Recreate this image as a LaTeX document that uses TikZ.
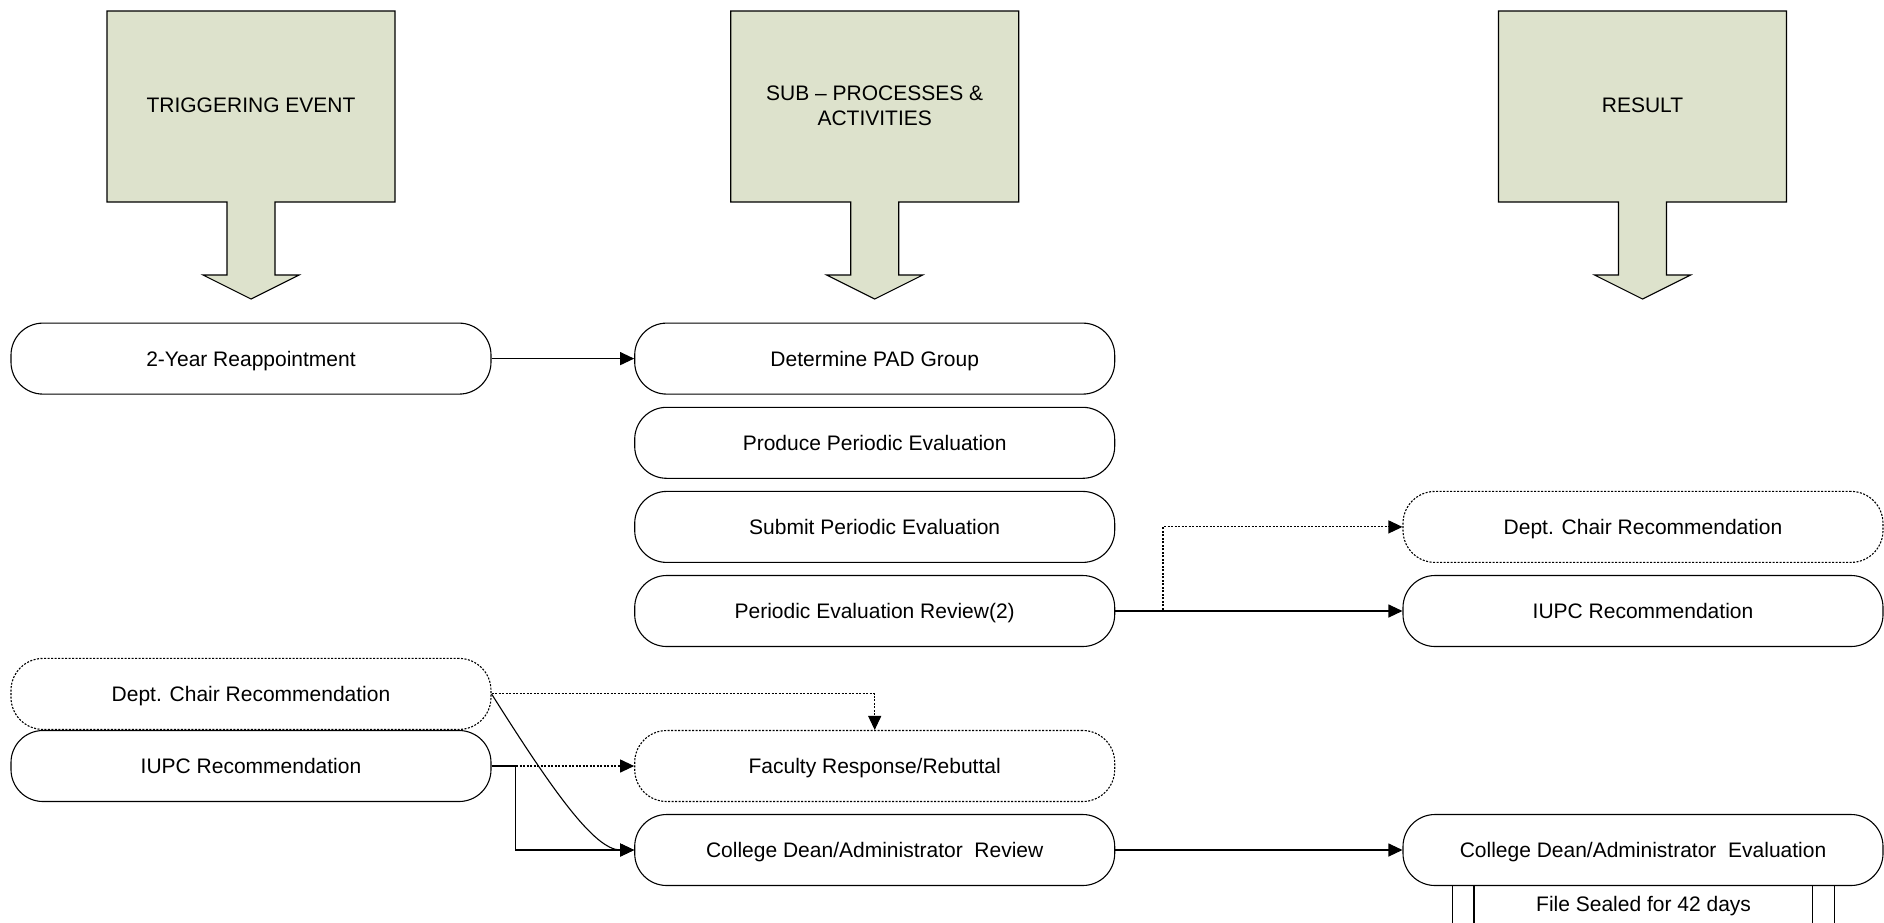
\documentclass[tikz,border=0pt]{standalone}
\usepackage{fontspec}
\setmainfont{Liberation Sans}
\usetikzlibrary{arrows.meta}
\definecolor{hdrfill}{RGB}{221,226,204}
\begin{document}
\begin{tikzpicture}[x=1pt,y=-1pt,
  every node/.style={font=\fontsize{21}{25}\selectfont},
  proc/.style={draw, line width=1.1pt, rounded corners=32pt, minimum width=480pt, minimum height=71pt, inner sep=0pt, text height=15.5pt, text depth=0pt},
  dproc/.style={proc, dash pattern=on 2pt off 1.5pt},
  conn/.style={line width=1.1pt, -{Triangle[length=14pt,width=13pt]}},
  dconn/.style={conn, dash pattern=on 2pt off 1.5pt},
  hdr/.style={draw, line width=1.1pt, fill=hdrfill}]
\useasboundingbox (0,0) rectangle (1884,922);

% header arrows
\foreach \cx in {251,874.7,1642.5}{
  \draw[hdr] ({\cx-144},11) -- ({\cx+144},11) -- ({\cx+144},202) -- ({\cx+24},202)
    -- ({\cx+24},275) -- ({\cx+48},275) -- (\cx,299) -- ({\cx-48},275) -- ({\cx-24},275)
    -- ({\cx-24},202) -- ({\cx-144},202) -- cycle;
}
\node (h1) at (251,105) {TRIGGERING EVENT};
\node[align=center] (h2) at (874.7,106) {SUB – PROCESSES \&\\ACTIVITIES};
\node (h3) at (1642.5,105) {RESULT};

% process nodes
\node[proc]  (n2y)   at (251,358.6)   {2-Year Reappointment};
\node[proc]  (pad)   at (874.7,358.6) {Determine PAD Group};
\node[proc]  (prod)  at (874.7,442.8) {Produce Periodic Evaluation};
\node[proc]  (subm)  at (874.7,526.9) {Submit Periodic Evaluation};
\node[proc]  (rev)   at (874.7,611)   {Periodic Evaluation Review(2)};
\node[dproc] (dcr)   at (1643,526.9)  {Dept. Chair Recommendation};
\node[proc]  (iupcr) at (1643,611)    {IUPC Recommendation};
\node[dproc] (dcl)   at (251,693.9)   {Dept. Chair Recommendation};
\node[proc]  (iupcl) at (251,766)     {IUPC Recommendation};
\node[dproc] (frr)   at (874.7,766)   {Faculty Response/Rebuttal};
\node[proc]  (cdr)   at (874.7,850)   {College Dean/Administrator\ \ Review};
\node[proc]  (cde)   at (1643,850)    {College Dean/Administrator\ \ Evaluation};

% sealed file (cut off at the bottom)
\node (seal) at (1643.6,906) {File Sealed for 42 days};
\foreach \dx in {-190.5,-169,169.5,191.5}
  \draw[line width=1.1pt] (cde.south) ++(\dx,0) -- ++(0,40);

% connectors
\coordinate (b1) at (1163,611);
\coordinate (b2) at (515.5,766);
\draw[conn] (n2y) -- (pad);
\draw[dconn] (rev.east) -- (b1) |- (dcr.west);
\draw[conn] (rev.east) -- (iupcr.west);
\draw[dconn] (dcl.east) -| (frr.north);
\draw[conn] (dcl.east) .. controls +(60,95) and +(-40,0) .. (cdr.west);
\draw[dconn] (iupcl.east) -- (frr.west);
\draw[conn] (iupcl.east) -- (b2) |- (cdr.west);
\draw[conn] (cdr) -- (cde);
\end{tikzpicture}
\end{document}
